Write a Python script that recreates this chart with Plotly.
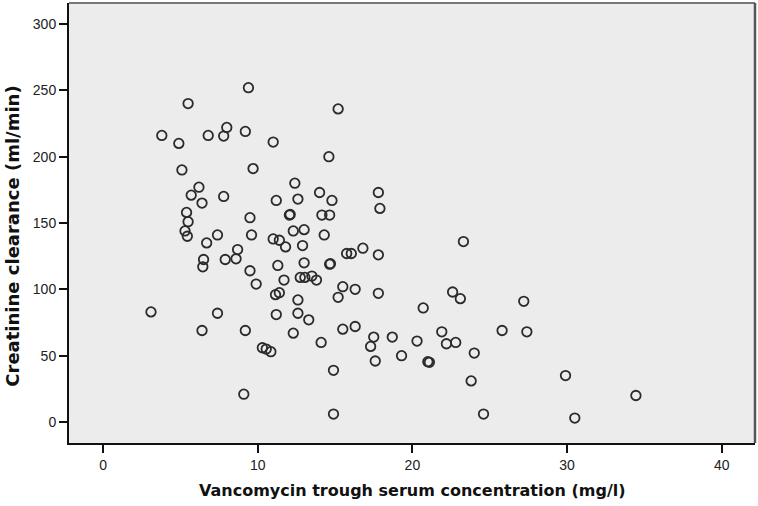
import plotly.graph_objects as go

# Vancomycin trough (mg/l) vs creatinine clearance (ml/min)
vanco = [3.1, 3.8, 4.9, 5.1, 5.5, 6.8, 8.0, 7.8, 9.2, 9.4,
         11.0, 9.7, 6.2, 5.7, 6.4, 7.8, 12.4, 11.2, 12.6, 12.05,
         12.1, 5.4, 5.5, 9.5, 5.3, 5.45, 6.7, 7.4, 9.6, 11.0,
         11.4, 11.8, 12.3, 13.0, 12.9, 8.7, 6.5, 7.9, 8.6, 6.45,
         14.6, 15.2, 14.0, 17.8, 14.8, 17.9, 14.15, 14.65, 14.3, 15.75,
         16.05, 16.8, 17.8, 11.3, 13.0, 14.65, 14.7, 9.5, 9.9, 11.7,
         12.75, 13.05, 13.5, 13.8, 11.15, 11.4, 12.6, 15.5, 16.3, 15.2,
         17.8, 7.4, 11.2, 12.6, 13.3, 20.7, 6.4, 9.2, 12.3, 15.5,
         16.3, 17.5, 17.3, 18.7, 19.3, 17.6, 10.3, 10.55, 10.85, 14.1,
         14.9, 9.1, 14.9, 23.3, 22.6, 23.1, 27.2, 20.3, 21.9, 22.2,
         22.8, 25.8, 27.4, 21.0, 21.1, 24.0, 23.8, 29.9, 34.45, 24.6,
         30.5]
clcr = [83, 216, 210, 190, 240, 216, 222, 215.5, 219, 252,
        211, 191, 177, 171, 165, 170, 180, 167, 168, 156,
        156.5, 158, 151, 154, 144, 140, 135, 141, 141, 138,
        137, 132, 144, 145, 133, 130, 122.5, 122.5, 123, 117,
        200, 236, 173, 173, 167, 161, 156, 156, 141, 127,
        127, 131, 126, 118, 120, 119, 119.3, 114, 104, 107,
        109, 109, 110, 107, 96, 97.5, 92, 102, 100, 94,
        97, 82, 81, 82, 77, 86, 69, 69, 67, 70,
        72, 64, 57, 64, 50, 46, 56, 55, 53, 60,
        39, 21, 6, 136, 98, 93, 91, 61, 68, 59,
        60, 69, 68, 45.5, 45, 52, 31, 35, 20, 6,
        3]

x_ticks = [0, 10, 20, 30, 40]
y_ticks = [0, 50, 100, 150, 200, 250, 300]

fuente = "Arial, Liberation Sans, sans-serif"
fuente_tit = "DejaVu Sans, Arial, sans-serif"

fig = go.Figure()

# Nube de puntos: circulos abiertos
fig.add_trace(go.Scatter(x=vanco, y=clcr, mode="markers",
                         marker=dict(symbol="circle-open", size=9.5, color="#2b2b2b",
                                     line=dict(width=1.8)),
                         hoverinfo="x+y", showlegend=False))

eje = dict(showgrid=False, zeroline=False, showline=True, linecolor="#111111",
           linewidth=2, ticks="outside", ticklen=8, tickwidth=2, tickcolor="#111111",
           tickfont=dict(family=fuente, size=14, color="#222222"))

fig.update_layout(width=758, height=506,
                  margin=dict(l=69, r=3, t=3, b=63),
                  paper_bgcolor="white", plot_bgcolor="#ECECEC",
                  font=dict(family=fuente),
                  xaxis=dict(eje, range=[-2.2, 42.15], tickvals=x_ticks),
                  yaxis=dict(eje, range=[-15.8, 315.8], tickvals=y_ticks))

# Marco superior y derecho en gris
fig.add_shape(type="line", xref="paper", yref="paper", x0=0, x1=1, y0=1, y1=1,
              line=dict(color="#777777", width=2))
fig.add_shape(type="line", xref="paper", yref="paper", x0=1, x1=1, y0=0, y1=1,
              line=dict(color="#555555", width=2.5))

# Titulos de los ejes
fig.add_annotation(text="<b>Vancomycin trough serum concentration (mg/l)</b>",
                   xref="paper", yref="paper", x=0.5, y=-0.107, showarrow=False,
                   xanchor="center", yanchor="middle",
                   font=dict(family=fuente_tit, size=16, color="#111111"))
fig.add_annotation(text="<b>Creatinine clearance (ml/min)</b>",
                   xref="paper", yref="paper", x=-69 / 686, y=0.47, showarrow=False,
                   textangle=-90, xanchor="left", yanchor="middle",
                   font=dict(family=fuente_tit, size=18, color="#111111"))

# quitar el margen por defecto del body para que la figura quede en (0, 0)
fig.write_html("out.html", config={"displayModeBar": False},
               post_script="document.body.style.margin='0';document.body.style.overflow='hidden';")
